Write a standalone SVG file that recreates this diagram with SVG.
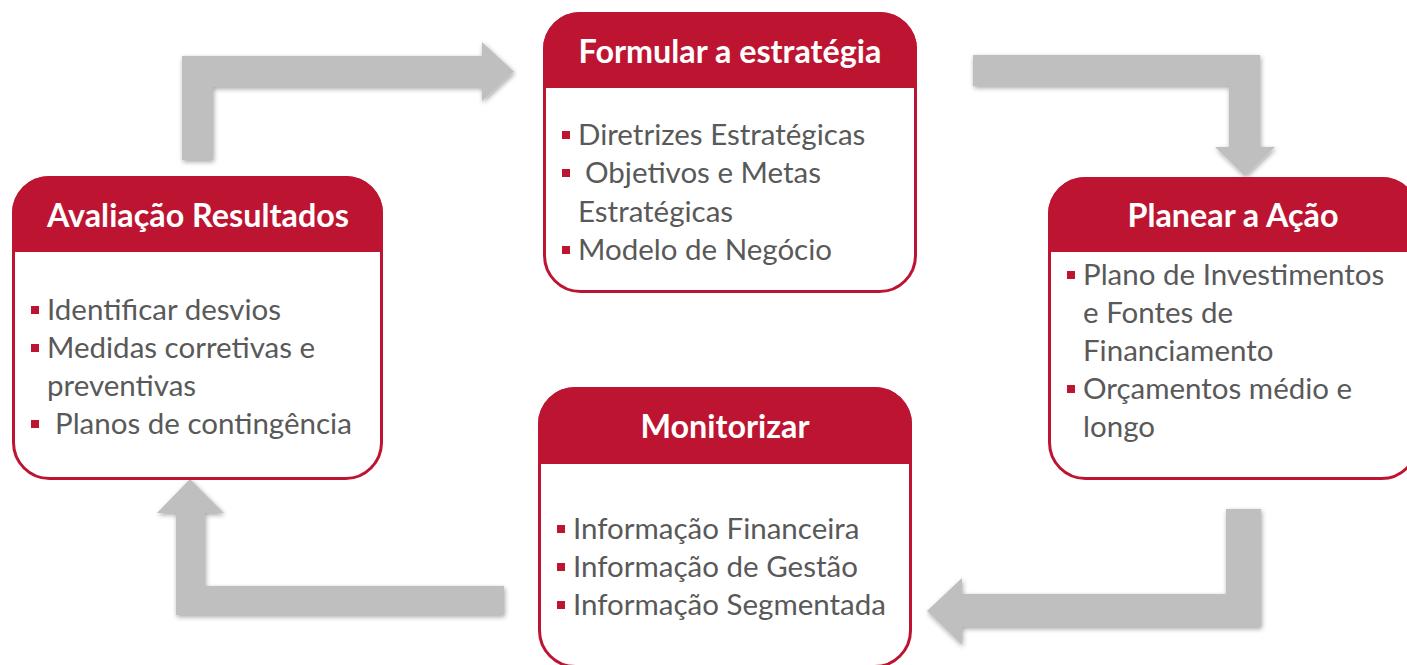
<svg xmlns="http://www.w3.org/2000/svg" width="1407" height="665" viewBox="0 0 1407 665">
  <style>
    .box { fill: #ffffff; stroke: #BD1531; stroke-width: 3; }
    .hdr { fill: #BD1531; }
    .title { font-family: Lato, "Liberation Sans", sans-serif; font-weight: bold; font-size: 32.3px; fill: #ffffff; text-anchor: middle; }
    .item { font-family: Lato, "Liberation Sans", sans-serif; font-size: 29.5px; fill: #595959; }
    .bullet { fill: #BD1531; }
    .arrow { fill: #BFBFBF; filter: url(#shadow); }
  </style>
  <defs>
    <filter id="shadow" x="-10%" y="-20%" width="120%" height="140%">
      <feGaussianBlur in="SourceAlpha" stdDeviation="2.5"/>
      <feOffset dx="1" dy="2" result="b"/>
      <feComponentTransfer><feFuncA type="linear" slope="0.35"/></feComponentTransfer>
      <feMerge><feMergeNode/><feMergeNode in="SourceGraphic"/></feMerge>
    </filter>
  </defs>
  <rect width="1407" height="665" fill="#ffffff"/>

  <g id="connectors">
    <path class="arrow" d="M182,160 L182,56 L482,56 L482,42 L514,71.5 L482,101 L482,87 L213,87 L213,160 Z"/>
    <path class="arrow" d="M973,55 L1260,55 L1260,147 L1275,147 L1245,176 L1215,147 L1229,147 L1229,86 L973,86 Z"/>
    <path class="arrow" d="M1261,509 L1261,627 L962,627 L962,645 L927,611 L962,578 L962,594 L1226,594 L1226,509 Z"/>
    <path class="arrow" d="M504,586 L504,615 L176,615 L176,513 L157,513 L190,479 L224,513 L205,513 L205,586 Z"/>
  </g>

  <g id="formular">
    <rect class="box" x="544.5" y="13.5" width="371" height="278" rx="36" ry="36"/>
    <path class="hdr" d="M543,88 L543,49 A37,37 0 0 1 580,12 L880,12 A37,37 0 0 1 917,49 L917,88 Z"/>
    <text class="title" x="730" y="63">Formular a estratégia</text>
    <rect class="bullet" x="562" y="131" width="8" height="8"/>
    <text class="item" x="578" y="145">Diretrizes Estratégicas</text>
    <rect class="bullet" x="562" y="169" width="8" height="8"/>
    <text class="item" x="585" y="183">Objetivos e Metas</text>
    <text class="item" x="578" y="222">Estratégicas</text>
    <rect class="bullet" x="562" y="246" width="8" height="8"/>
    <text class="item" x="578" y="260">Modelo de Negócio</text>
  </g>

  <g id="avaliacao">
    <rect class="box" x="13.5" y="177.5" width="368" height="301" rx="36" ry="36"/>
    <path class="hdr" d="M12,252 L12,213 A37,37 0 0 1 49,176 L346,176 A37,37 0 0 1 383,213 L383,252 Z"/>
    <text class="title" x="198" y="227">Avaliação Resultados</text>
    <rect class="bullet" x="31" y="306" width="8" height="8"/>
    <text class="item" x="47" y="320">Identificar desvios</text>
    <rect class="bullet" x="31" y="344" width="8" height="8"/>
    <text class="item" x="47" y="358">Medidas corretivas e</text>
    <text class="item" x="47" y="396">preventivas</text>
    <rect class="bullet" x="31" y="420" width="8" height="8"/>
    <text class="item" x="55" y="434">Planos de contingência</text>
  </g>

  <g id="planear">
    <rect class="box" x="1049.5" y="178.5" width="368" height="300" rx="36" ry="36"/>
    <path class="hdr" d="M1048,252 L1048,214 A37,37 0 0 1 1085,177 L1382,177 A37,37 0 0 1 1419,214 L1419,252 Z"/>
    <text class="title" x="1233" y="227">Planear a Ação</text>
    <rect class="bullet" x="1067" y="271" width="8" height="8"/>
    <text class="item" x="1083" y="285">Plano de Investimentos</text>
    <text class="item" x="1083" y="323">e Fontes de</text>
    <text class="item" x="1083" y="361">Financiamento</text>
    <rect class="bullet" x="1067" y="385" width="8" height="8"/>
    <text class="item" x="1083" y="399">Orçamentos médio e</text>
    <text class="item" x="1083" y="437">longo</text>
  </g>

  <g id="monitorizar">
    <rect class="box" x="539.5" y="388.5" width="371" height="278" rx="36" ry="36"/>
    <path class="hdr" d="M538,464 L538,424 A37,37 0 0 1 575,387 L875,387 A37,37 0 0 1 912,424 L912,464 Z"/>
    <text class="title" x="725" y="438">Monitorizar</text>
    <rect class="bullet" x="557" y="525" width="8" height="8"/>
    <text class="item" x="573" y="539">Informação Financeira</text>
    <rect class="bullet" x="557" y="563" width="8" height="8"/>
    <text class="item" x="573" y="577">Informação de Gestão</text>
    <rect class="bullet" x="557" y="601" width="8" height="8"/>
    <text class="item" x="573" y="615">Informação Segmentada</text>
  </g>
</svg>
